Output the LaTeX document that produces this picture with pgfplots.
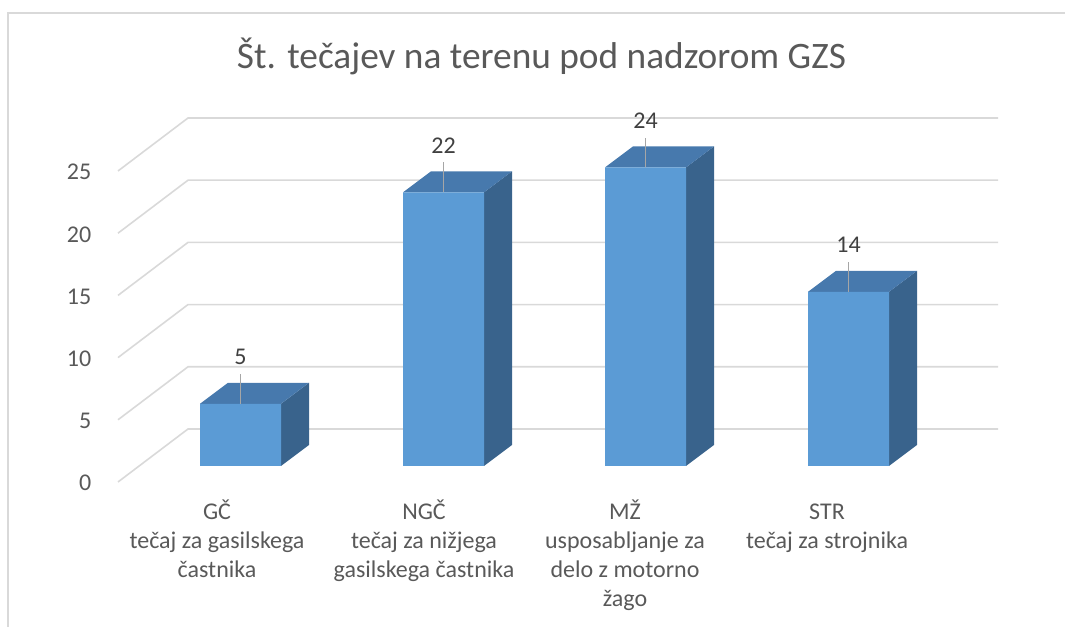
\documentclass[border=0pt]{standalone}
\usepackage{pgfplots}
\pgfplotsset{compat=1.18}
\usepackage{pgfplotstable}
\usepackage{fontspec}
\setmainfont{Carlito}
\definecolor{frontc}{HTML}{5B9BD5}
\definecolor{topc}{HTML}{4779AD}
\definecolor{sidec}{HTML}{39638C}
\definecolor{gridc}{HTML}{D9D9D9}
\definecolor{txtc}{HTML}{595959}
\definecolor{lblc}{HTML}{404040}
\definecolor{leadc}{HTML}{A6A6A6}

\pgfplotstableread{
x v
240.5 5
443.5 22
645.5 24
848.5 14
}\bars

\tikzset{cat/.style={anchor=base, inner sep=0pt, font=\fontsize{18}{21.75}\selectfont, text=txtc}}

\begin{document}
\begin{tikzpicture}
\begin{axis}[
  scale only axis, width=798.75pt, height=470.25pt,
  xmin=0, xmax=1065, ymin=-12.942, ymax=37.460,
  hide axis, clip=false,
  /pgf/number format/assume math mode=true,
]
% border
\addplot[gridc, line width=1.1pt] coordinates {(8,-12.942) (8,36.415) (1065,36.415)};
% gridlines (front diagonal + back wall)
\addplot[gridc, line width=1.2pt] coordinates {(118,-1.286) (188,2.974) (998,2.974)};
\addplot[gridc, line width=1.2pt] coordinates {(118,3.714) (188,7.974) (998,7.974)};
\addplot[gridc, line width=1.2pt] coordinates {(118,8.714) (188,12.974) (998,12.974)};
\addplot[gridc, line width=1.2pt] coordinates {(118,13.714) (188,17.974) (998,17.974)};
\addplot[gridc, line width=1.2pt] coordinates {(118,18.714) (188,22.974) (998,22.974)};
\addplot[gridc, line width=1.2pt] coordinates {(118,23.714) (188,27.974) (998,27.974)};
% side faces
\addplot[fill=sidec, draw=none] coordinates {(281,0) (281,5) (309,6.688) (309,1.688)} -- cycle;
\addplot[fill=sidec, draw=none] coordinates {(484,0) (484,22) (512,23.688) (512,1.688)} -- cycle;
\addplot[fill=sidec, draw=none] coordinates {(686,0) (686,24) (714,25.688) (714,1.688)} -- cycle;
\addplot[fill=sidec, draw=none] coordinates {(889,0) (889,14) (917,15.688) (917,1.688)} -- cycle;
% top faces
\addplot[fill=topc, draw=none] coordinates {(200,5) (281,5) (309,6.688) (228,6.688)} -- cycle;
\addplot[fill=topc, draw=none] coordinates {(403,22) (484,22) (512,23.688) (431,23.688)} -- cycle;
\addplot[fill=topc, draw=none] coordinates {(605,24) (686,24) (714,25.688) (633,25.688)} -- cycle;
\addplot[fill=topc, draw=none] coordinates {(808,14) (889,14) (917,15.688) (836,15.688)} -- cycle;
% front faces
\addplot[ybar, bar width=81, bar shift=0pt, fill=frontc, draw=none] table[x=x, y=v] {\bars};
% leader lines and data labels
\addplot[draw=none, mark=none, nodes near coords,
  every node near coord/.append style={anchor=base, yshift=29.3pt,
    font=\fontsize{18}{21.75}\selectfont, text=lblc},
  error bars/.cd, y dir=plus, y fixed=2.4, error mark=none,
  error bar style={draw=leadc, line width=1.2pt}]
  table[x=x, y=v] {\bars};
% y tick labels
\node[anchor=base east, font=\fontsize{18}{21.75}\selectfont, text=txtc] at (axis cs:96,-2.009) {0};
\node[anchor=base east, font=\fontsize{18}{21.75}\selectfont, text=txtc] at (axis cs:96,2.991) {5};
\node[anchor=base east, font=\fontsize{18}{21.75}\selectfont, text=txtc] at (axis cs:96,7.991) {10};
\node[anchor=base east, font=\fontsize{18}{21.75}\selectfont, text=txtc] at (axis cs:96,12.991) {15};
\node[anchor=base east, font=\fontsize{18}{21.75}\selectfont, text=txtc] at (axis cs:96,17.991) {20};
\node[anchor=base east, font=\fontsize{18}{21.75}\selectfont, text=txtc] at (axis cs:96,22.991) {25};
% category labels (one node per line)
\node[cat] at (axis cs:217,-4.341) {GČ};
\node[cat] at (axis cs:217,-6.672) {tečaj za gasilskega};
\node[cat] at (axis cs:217,-9.003) {častnika};
\node[cat] at (axis cs:424,-4.341) {NGČ};
\node[cat] at (axis cs:424,-6.672) {tečaj za nižjega};
\node[cat] at (axis cs:424,-9.003) {gasilskega častnika};
\node[cat] at (axis cs:625,-4.341) {MŽ};
\node[cat] at (axis cs:625,-6.672) {usposabljanje za};
\node[cat] at (axis cs:625,-9.003) {delo z motorno};
\node[cat] at (axis cs:625,-11.334) {žago};
\node[cat] at (axis cs:827,-4.341) {STR};
\node[cat] at (axis cs:827,-6.672) {tečaj za strojnika};
% title
\node[anchor=base, font=\fontsize{28}{34}\selectfont, text=txtc] at (axis cs:541.5,31.913) {Št. tečajev na terenu pod nadzorom GZS};
\end{axis}
\pgfresetboundingbox
\path[use as bounding box] (current axis.south west) rectangle (current axis.north east);
\end{tikzpicture}
\end{document}
